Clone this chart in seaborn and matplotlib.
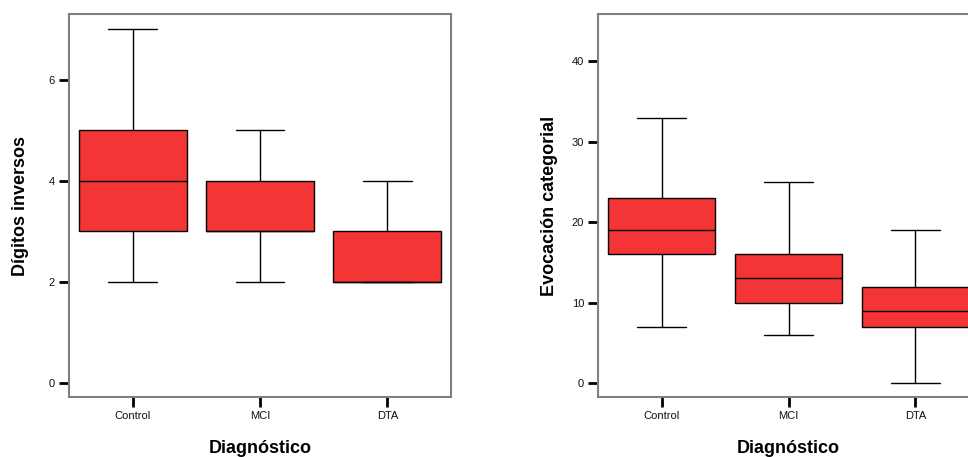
import seaborn as sns
import matplotlib.pyplot as plt
import pandas as pd

sns.set_theme(style="white")
plt.rcParams['font.family'] = ['Liberation Sans', 'DejaVu Sans']

groups = ['Control', 'MCI', 'DTA']

# five-number summaries (min, q1, median, q3, max)
digitos_control = [2, 3, 4, 5, 7]
digitos_mci = [2, 3, 3, 4, 5]
digitos_dta = [2, 2, 2, 3, 4]

evocacion_control = [7, 16, 19, 23, 33]
evocacion_mci = [6, 10, 13, 16, 25]
evocacion_dta = [0, 7, 9, 12, 19]

digitos_ticks = [0, 2, 4, 6]
evocacion_ticks = [0, 10, 20, 30, 40]

df_dig = pd.DataFrame({
    'Diagnóstico': [g for g in groups for _ in range(5)],
    'valor': digitos_control + digitos_mci + digitos_dta,
})
df_evo = pd.DataFrame({
    'Diagnóstico': [g for g in groups for _ in range(5)],
    'valor': evocacion_control + evocacion_mci + evocacion_dta,
})

fig = plt.figure(figsize=(9.68, 4.57), dpi=100)
ax1 = fig.add_axes([69 / 968, 60 / 457, 382 / 968, 383 / 457])
ax2 = fig.add_axes([598 / 968, 60 / 457, 381 / 968, 383 / 457])

box_kws = dict(x='Diagnóstico', y='valor', order=groups, color='#F43535',
               linecolor='black', linewidth=1, width=0.85, whis=(0, 100),
               fliersize=0, saturation=1, capwidths=0.38)

for ax, df, ticks, ylim, ylabel, ylab_x in [
        (ax1, df_dig, digitos_ticks, (-0.28, 7.3), 'Dígitos inversos', -0.105),
        (ax2, df_evo, evocacion_ticks, (-1.74, 45.9), 'Evocación categorial', -0.106)]:
    sns.boxplot(data=df, ax=ax, **box_kws)
    ax.set_xlim(-0.5, 2.5)
    ax.set_ylim(*ylim)
    ax.set_yticks(ticks)
    ax.set_ylabel(ylabel, fontsize=13, fontweight='bold', color='black')
    ax.set_xlabel('Diagnóstico', fontsize=13, fontweight='bold', color='black')
    ax.yaxis.set_label_coords(ylab_x, 0.5)
    ax.xaxis.set_label_coords(0.5, -0.112)
    ax.tick_params(axis='both', direction='out', length=7, width=2,
                   color='black', labelsize=8, pad=3, labelcolor='#111111')
    ax.tick_params(left=True, bottom=True)
    for sp in ax.spines.values():
        sp.set_color('#808080')
        sp.set_linewidth(1.5)

fig.savefig('out.png', dpi=100)
